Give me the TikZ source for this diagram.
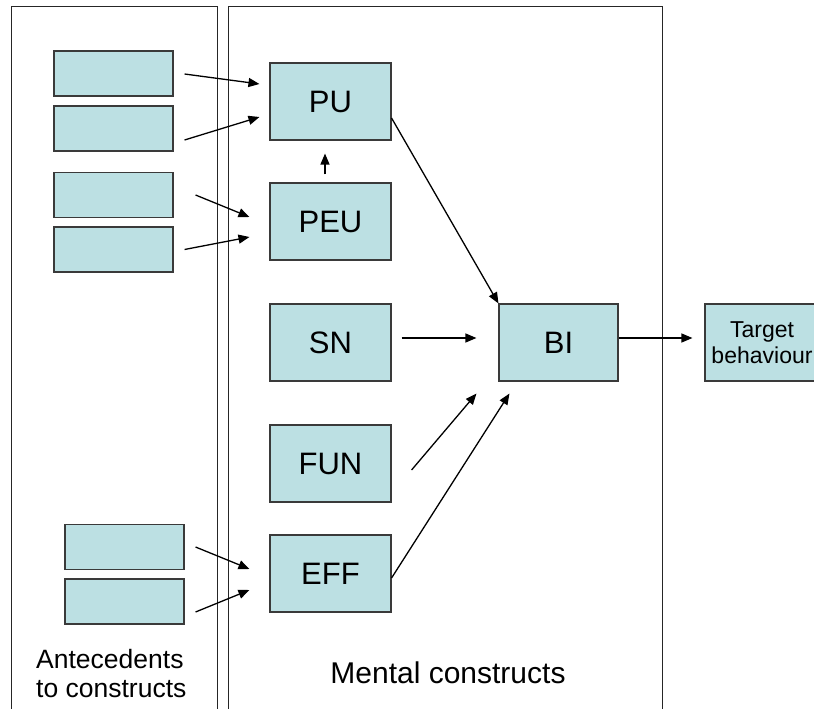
\documentclass[tikz,border=0pt]{standalone}
\usepackage{fontspec}
\setmainfont{Liberation Sans}
\usetikzlibrary{arrows.meta,calc}
\definecolor{boxfill}{HTML}{BCE0E3}
\definecolor{boxline}{HTML}{3A3A3A}
\begin{document}
\begin{tikzpicture}[x=1pt,y=-1pt,
  construct/.style={draw=boxline,fill=boxfill,line width=1.1pt,minimum width=121pt,minimum height=77pt,inner sep=0pt,font=\fontsize{31}{36}\selectfont},
  antebox/.style={draw=boxline,fill=boxfill,line width=1.1pt,minimum width=119pt,minimum height=45pt,inner sep=0pt},
  panel/.style={draw=black!85,line width=1pt},
  arr/.style={line width=1.3pt,-{Triangle[length=11pt,width=9pt]}}]
\useasboundingbox (0,0) rectangle (814,709);
\clip (0,0) rectangle (814,709);
% panels
\draw[panel] (11,712) -- (11,7) -- (217,7) -- (217,712);
\draw[panel] (228,712) -- (228,7) -- (662,7) -- (662,712);
% antecedent boxes
\node[antebox] (a1) at (113.5,73.5) {};
\node[antebox] (a2) at (113.5,128.5) {};
\node[antebox] (a3) at (113.5,195) {};
\node[antebox] (a4) at (113.5,249.5) {};
\node[antebox] (b1) at (124.5,547) {};
\node[antebox] (b2) at (124.5,601.5) {};
% constructs
\node[construct] (PU) at (330.5,101.5) {PU};
\node[construct] (PEU) at (330.5,221.5) {PEU};
\node[construct] (SN) at (330.5,342.5) {SN};
\node[construct] (FUN) at (330.5,463.5) {FUN};
\node[construct] (EFF) at (330.5,573.5) {EFF};
\node[construct,minimum width=119pt] (BI) at (558.5,342.5) {BI};
\node[construct,minimum width=114pt,align=center,font=\fontsize{23}{26}\selectfont] (TB) at (762,342.5) {Target\\behaviour};
% arrows
\draw[arr] ($(a1.east)+(11,0.5)$) -- ($(PU.west)+(-10,-17.5)$);
\draw[arr] ($(a2.east)+(11,11.5)$) -- ($(PU.west)+(-10,15.5)$);
\draw[arr] ($(a3.east)+(22,0)$) -- ($(PEU.west)+(-20,-4.5)$);
\draw[arr] ($(a4.east)+(11,0)$) -- ($(PEU.west)+(-20,15.5)$);
\draw[arr] ($(PEU.north)+(-5.5,-8)$) -- ($(PU.south)+(-5.5,13)$);
\draw[arr] ($(PU.east)+(0,16.5)$) -- (BI.north west);
\draw[arr] ($(SN.east)+(10,-4.5)$) -- ($(BI.west)+(-22,-4.5)$);
\draw[arr] ($(BI.east)+(0,-4.5)$) -- ($(TB.west)+(-12,-4.5)$);
\draw[arr] ($(FUN.east)+(20,6.5)$) -- ($(BI.south west)+(-22,12)$);
\draw[arr] ($(EFF.east)+(0,4.5)$) -- ($(BI.south west)+(11,12)$);
\draw[arr] ($(b1.east)+(11,0)$) -- ($(EFF.west)+(-20,-4.5)$);
\draw[arr] ($(b2.east)+(11,10.5)$) -- ($(EFF.west)+(-20,16.5)$);
% labels
\node[anchor=base west,inner sep=0pt,font=\fontsize{26.5}{29}\selectfont] (ante1) at (36,668) {Antecedents};
\node[anchor=base west,inner sep=0pt,font=\fontsize{26.5}{29}\selectfont] (ante2) at (36,697) {to constructs};
\node[anchor=base,inner sep=0pt,font=\fontsize{30}{34}\selectfont] (mental) at (448,683) {Mental constructs};
\end{tikzpicture}
\end{document}
